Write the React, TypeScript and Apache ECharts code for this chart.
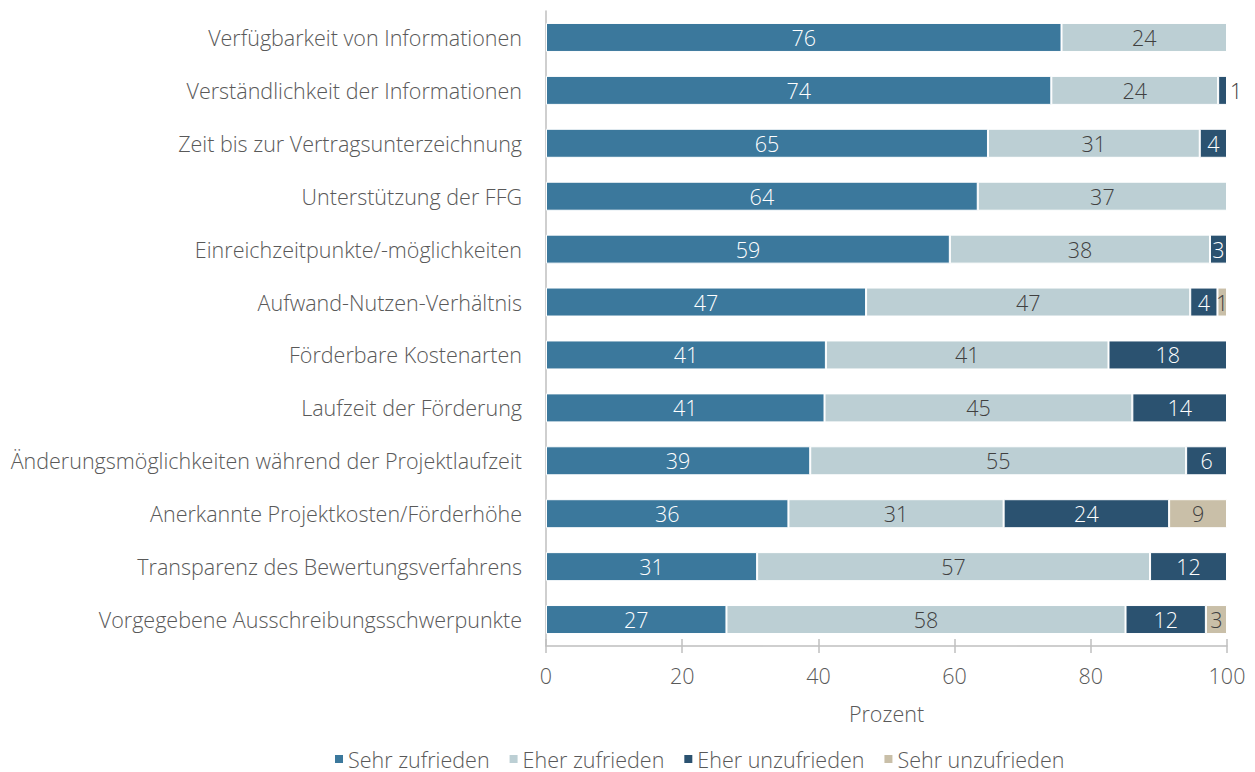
import React, { useEffect, useRef } from "react";
import * as echarts from "echarts";

const categories = [
  "Verfügbarkeit von Informationen",
  "Verständlichkeit der Informationen",
  "Zeit bis zur Vertragsunterzeichnung",
  "Unterstützung der FFG",
  "Einreichzeitpunkte/-möglichkeiten",
  "Aufwand-Nutzen-Verhältnis",
  "Förderbare Kostenarten",
  "Laufzeit der Förderung",
  "Änderungsmöglichkeiten während der Projektlaufzeit",
  "Anerkannte Projektkosten/Förderhöhe",
  "Transparenz des Bewertungsverfahrens",
  "Vorgegebene Ausschreibungsschwerpunkte",
];

const seriesNames = ["Sehr zufrieden", "Eher zufrieden", "Eher unzufrieden", "Sehr unzufrieden"];

// bar lengths (percent)
const sehrZufrieden = [75.7, 74.2, 64.9, 63.4, 59.3, 47.0, 41.1, 40.9, 38.8, 35.6, 31.0, 26.5];
const eherZufrieden = [24.3, 24.5, 31.1, 36.6, 38.2, 47.6, 41.5, 45.2, 55.2, 31.6, 57.7, 58.6];
const eherUnzufrieden = [0, 1.3, 4.0, 0, 2.5, 4.0, 17.4, 13.9, 6.0, 24.3, 11.3, 11.8];
const sehrUnzufrieden = [0, 0, 0, 0, 0, 1.4, 0, 0, 0, 8.5, 0, 3.1];

// printed data labels
const sehrZufriedenLabels = [76, 74, 65, 64, 59, 47, 41, 41, 39, 36, 31, 27];
const eherZufriedenLabels = [24, 24, 31, 37, 38, 47, 41, 45, 55, 31, 57, 58];
const eherUnzufriedenLabels = [null, 1, 4, null, 3, 4, 18, 14, 6, 24, 12, 12];
const sehrUnzufriedenLabels = [null, null, null, null, null, 1, null, null, null, 9, null, 3];

const xTicks = [0, 20, 40, 60, 80, 100];

const colors = ["#3b789c", "#bccfd4", "#2b5270", "#c9bfa8"];
const labelColors = ["#ffffff", "#404040", "#ffffff", "#404040"];
const FONT = "'Open Sans', Lato, sans-serif";
const FS = 21.5;

export default function App() {
  const ref = useRef<HTMLDivElement>(null);
  useEffect(() => {
    document.body.style.margin = "0";
    document.body.style.overflow = "hidden";
    if (!ref.current) return;
    const chart = echarts.init(ref.current, undefined, { renderer: "svg" });
    const values = [sehrZufrieden, eherZufrieden, eherUnzufrieden, sehrUnzufrieden];
    const labels = [sehrZufriedenLabels, eherZufriedenLabels, eherUnzufriedenLabels, sehrUnzufriedenLabels];

    const series = seriesNames.map((name, si) => ({
      name,
      type: "bar",
      stack: "total",
      barWidth: 29,
      itemStyle: { color: colors[si], borderColor: "#ffffff", borderWidth: 1 },
      label: {
        show: true,
        position: "inside",
        color: labelColors[si],
        fontFamily: FONT,
        fontSize: FS,
        fontWeight: 300,
        formatter: (p: any) => {
          const l = labels[si][p.dataIndex];
          return l == null ? "" : String(l);
        },
      },
      data: values[si].map((v) => {
        if (!v) return { value: 0, label: { show: false } };
        if (v < 1.35) {
          return { value: v, label: { position: "right", distance: 3, color: "#404040" } };
        }
        return v;
      }),
    }));

    chart.setOption({
      animation: false,
      textStyle: { fontFamily: FONT },
      grid: { left: 546, right: 28, top: 11, bottom: 126, containLabel: false },
      legend: {
        data: seriesNames,
        top: 748,
        left: 333,
        padding: 0,
        icon: "rect",
        itemWidth: 10,
        itemHeight: 10,
        itemGap: 18,
        textStyle: { color: "#595959", fontSize: FS, fontFamily: FONT, fontWeight: 300, padding: [0, 0, 0, -1] },
      },
      xAxis: [
        {
          type: "value",
          min: xTicks[0],
          max: xTicks[xTicks.length - 1],
          interval: 20,
          position: "bottom",
          name: "Prozent",
          nameLocation: "middle",
          nameGap: 56,
          nameTextStyle: { color: "#595959", fontSize: FS, fontFamily: FONT, fontWeight: 300 },
          axisLine: { show: true, lineStyle: { color: "#bfbfbf", width: 1.5 } },
          axisTick: { show: true, length: 7, lineStyle: { color: "#bfbfbf", width: 1.5 } },
          axisLabel: { color: "#595959", fontSize: FS, fontFamily: FONT, fontWeight: 300, margin: 18 },
          splitLine: { show: false },
        },
        {
          type: "value",
          min: xTicks[0],
          max: xTicks[xTicks.length - 1],
          interval: 20,
          position: "bottom",
          axisLine: { show: false },
          axisTick: { show: true, inside: true, length: 7, lineStyle: { color: "#bfbfbf", width: 1.5 } },
          axisLabel: { show: false },
          splitLine: { show: false },
        },
      ],
      yAxis: {
        type: "category",
        data: categories,
        inverse: true,
        axisLine: { show: true, lineStyle: { color: "#bfbfbf", width: 1.5 } },
        axisTick: { show: false },
        axisLabel: { color: "#595959", fontSize: FS, fontFamily: FONT, fontWeight: 300, margin: 24 },
      },
      series,
    });
    return () => chart.dispose();
  }, []);
  return <div ref={ref} style={{ width: 1255, height: 772 }} />;
}
